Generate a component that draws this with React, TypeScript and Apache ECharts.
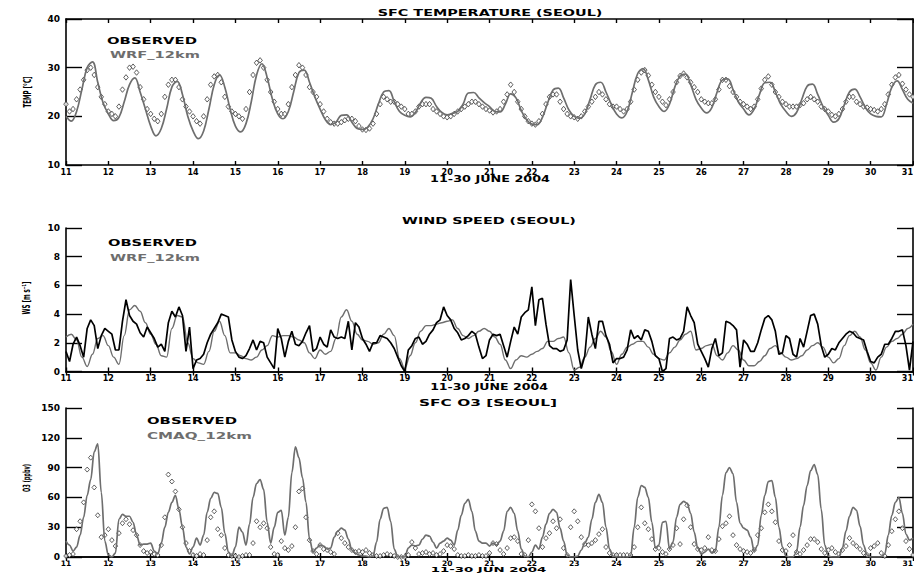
import React, { useEffect, useRef } from "react";
import * as echarts from "echarts";

// ---- data (day-of-month axis, 11..31 June 2004) ----
const DAY_START = 11;
const DAY_END = 31;

// Observed surface temperature, every 2 h (12 per day)
const TEMP_OBS = [
  22.5, 21, 21.5, 23.5, 25.5, 27.5, 29.5, 30, 28.5, 26, 24, 22.5,
  21, 20.5, 20, 22, 25.5, 28, 30, 30.2, 29, 26, 23.5, 21.5,
  20.5, 19.5, 19, 20.5, 24, 26.5, 27.5, 27.5, 26, 23.5, 22, 21,
  20, 19, 18.5, 20, 23.5, 26.5, 28.2, 28.5, 27, 24, 22, 21,
  20.5, 20, 19.5, 21.5, 25, 28.5, 31, 31.5, 30, 27.5, 25, 23,
  21.5, 20.5, 20.5, 22.5, 26, 28.5, 30.5, 30, 28.5, 26, 25, 24,
  22.5, 21, 19.5, 18.8, 18.5, 18.5, 18.8, 19.2, 19.5, 19.5, 19, 18,
  17.3, 17.2, 17.5, 18.5, 20.5, 22.5, 24, 23.5, 23, 23, 22.5, 22,
  21.5, 20.5, 20.5, 21, 22, 22.5, 22.5, 22.5, 21.5, 21, 20.5, 20,
  19.8, 20, 20.5, 21, 21.5, 22, 22.5, 23, 23, 22.5, 22, 21.5,
  21.2, 20.8, 21, 21.5, 23, 24.5, 26.5, 25, 23, 21.5, 20, 19,
  18.5, 18.3, 19, 20.5, 22.5, 24, 24.5, 24.5, 23, 21.5, 20.5, 20,
  19.8, 19.5, 20, 21, 22, 23, 24, 25, 24.5, 23.5, 22.5, 22,
  22, 21.5, 21, 21.5, 23, 25.5, 27.5, 29, 29.5, 28.4, 26.5, 25,
  24, 23, 22.3, 23.5, 25, 27, 28.3, 28.8, 28, 27, 26, 25,
  23.5, 23, 22.7, 22.7, 23.5, 25.5, 27.5, 27.5, 26.2, 25, 24, 23,
  22.5, 22, 21.5, 22, 23.5, 25.7, 27.5, 28.2, 26.5, 25, 24, 23,
  22.5, 22, 22, 22, 22.3, 22.7, 23.5, 24, 23.5, 23, 22, 21.5,
  21, 20.3, 20, 20.5, 21.5, 23, 24, 24, 23, 22.5, 22, 21.8,
  21.5, 21.3, 21, 21.5, 22.5, 24.5, 26.5, 28, 28.5, 26.7, 25.5, 24.5,
  24,
];

// WRF 12 km temperature, every 3 h (8 per day)
const TEMP_WRF = [
  20, 19, 21, 25.5, 30, 31.2, 27, 22.8,
  20.5, 19.1, 19.8, 23, 26.5, 27.9, 25, 21.5,
  18, 16, 17.5, 21.5, 26, 27.2, 24.5, 20,
  17, 15.4, 17, 21.5, 26.5, 28.5, 26, 21.5,
  18, 16.8, 18.5, 23, 28.5, 30.8, 28, 23.5,
  20.5, 19.5, 21, 25, 29, 29.5, 27, 24,
  21.5, 19.3, 18.3, 18.8, 20.2, 20.3, 18.8, 17.5,
  17.3, 17.8, 19.5, 22.5, 25, 25.3, 23, 21,
  20.2, 19.9, 20.8, 22.8, 23.9, 23.7, 22, 20.8,
  20.3, 20.6, 21, 22.5, 24.8, 24.9, 23.8, 22.8,
  22, 21, 20.9, 22.5, 24.6, 23.8, 21.2, 19.3,
  18.4, 18.3, 19.8, 22.8, 25.4, 25.8, 23.8, 21.3,
  20, 19.6, 20.5, 23.5, 26.5, 27, 25, 22.5,
  20.5, 19.7, 21, 25, 28.8, 29.8, 27.5, 24,
  22, 21, 22.5, 26, 28.3, 28.7, 26.5, 23.5,
  21.7, 20.7, 21.8, 25, 27.5, 27.7, 25.5, 23,
  21.5, 20.3, 21.5, 24.5, 26.9, 27, 25, 22.5,
  21, 20, 20.8, 23.5, 26.2, 26.6, 24.5, 22,
  20.2, 18.8, 19.5, 22.3, 25, 25.6, 24, 21.8,
  20.5, 20, 19.9, 22.5, 26, 27.3, 25.5, 23.5,
  22.7,
];

// Observed wind speed, every 2 h
const WS_OBS = [
  1.4, 0.7, 1.9, 2.4, 1.8, 1.0, 3.0, 3.6, 3.2, 1.6, 2.5, 3.0,
  2.8, 2.6, 1.5, 1.5, 3.5, 5.0, 3.9, 3.5, 3.3, 2.7, 2.4, 3.1,
  2.7, 2.3, 1.7, 1.9, 1.4, 3.4, 4.2, 3.8, 4.5, 3.9, 1.4, 3.1,
  0.2, 0.8, 0.9, 1.2, 2.0, 2.6, 3.0, 3.4, 4.0, 3.9, 3.8, 2.2,
  1.4, 1.0, 0.9, 1.1, 1.6, 2.2, 1.5, 2.1, 2.0, 1.0, 0.6, 0.2,
  3.0, 2.3, 1.0, 2.1, 2.8, 1.9, 1.8, 2.1, 2.7, 3.2, 1.4, 1.6,
  2.4, 1.9, 1.7, 2.9, 2.4, 2.3, 2.4, 2.3, 3.5, 1.5, 3.4, 3.1,
  2.3, 1.9, 1.4, 2.0, 2.0, 2.5, 2.4, 2.3, 2.0, 1.6, 1.0, 0.4,
  0.0, 1.5, 1.8, 2.3, 2.4, 1.9, 2.1, 2.6, 2.9, 3.4, 3.6, 4.5,
  3.9, 3.6, 3.0, 2.7, 2.2, 2.3, 2.5, 2.8, 2.6, 1.7, 0.9, 1.1,
  2.2, 2.6, 2.5, 2.6, 1.8, 1.0, 2.1, 3.1, 2.6, 3.8, 4.1, 4.3,
  5.9, 3.2, 5.0, 5.1, 3.3, 1.8, 1.6, 1.6, 1.4, 1.5, 2.2, 6.4,
  3.9, 1.5, 0.2, 1.1, 3.8, 2.6, 1.6, 3.5, 3.5, 2.5, 1.9, 0.6,
  0.9, 0.9, 1.0, 1.5, 2.9, 2.3, 2.5, 2.2, 2.9, 2.8, 2.1, 1.1,
  0.9, 0.0, 0.2, 2.3, 2.4, 2.2, 2.3, 2.8, 4.5, 3.9, 3.4, 1.9,
  1.4, 0.9, 0.3, 1.6, 2.3, 1.1, 1.3, 3.5, 3.4, 3.2, 2.9, 0.3,
  2.2, 1.9, 1.4, 1.4, 2.0, 2.9, 3.7, 3.9, 3.6, 2.8, 1.2, 1.3,
  2.5, 2.3, 1.2, 1.0, 2.3, 1.7, 2.8, 3.9, 4.0, 3.3, 1.8, 1.0,
  1.2, 1.6, 1.5, 2.0, 2.3, 2.6, 2.8, 2.7, 2.4, 2.3, 2.2, 1.4,
  0.7, 0.6, 1.0, 1.2, 1.9, 1.9, 2.3, 2.8, 2.8, 2.9, 1.8, 0.1,
  2.1,
];

// WRF 12 km wind speed, every 3 h
const WS_WRF = [
  2.4, 2.6, 2.2, 1.0, 0.35, 1.2, 2.3, 2.5,
  1.8, 1.0, 0.5, 2.5, 4.3, 4.6, 4.2, 3.4,
  2.6, 1.9, 1.1, 1.0, 3.0, 3.9, 3.8, 2.0,
  0.9, 0.6, 0.5, 1.4, 2.8, 3.5, 2.5, 1.3,
  1.3, 1.1, 0.9, 0.8, 1.0, 1.5, 1.8, 2.5,
  2.4, 2.5, 2.5, 2.4, 2.2, 2.0, 1.3, 0.9,
  1.5, 1.2, 1.4, 2.3, 3.8, 4.3, 3.5, 2.6,
  2.2, 2.1, 1.9, 2.0, 2.6, 3.0, 2.5, 0.9,
  0.2, 1.1, 2.0, 2.8, 3.2, 3.2, 3.3, 3.4,
  3.5, 3.6, 3.0, 2.5, 2.3, 2.5, 2.8, 3.0,
  2.8, 2.4, 1.9, 0.8, 0.2, 0.8, 1.1, 1.0,
  1.2, 1.4, 1.6, 2.1, 2.1, 2.3, 2.4, 1.3,
  0.1, 0.3, 1.0, 1.7, 2.3, 2.8, 2.4, 1.4,
  0.5, 1.2, 1.7, 1.9, 2.1, 2.1, 1.7, 1.2,
  0.9, 0.8, 1.3, 1.7, 2.2, 2.6, 2.8, 1.5,
  1.6, 1.8, 1.9, 1.1, 0.8, 1.3, 1.8, 1.5,
  0.8, 0.4, 0.4, 0.7, 1.1, 1.6, 1.8, 1.3,
  1.0, 0.8, 0.9, 1.1, 1.5, 1.8, 2.0, 1.7,
  1.0, 0.6, 0.9, 1.8, 2.5, 2.8, 2.4, 1.5,
  0.6, 0.1, 1.0, 1.7, 2.1, 2.3, 2.6, 3.0,
  3.3,
];

// Observed surface O3, every 2 h
const O3_OBS = [
  1, 2, 3, 28, 36, 55, 88, 100, 70, 42, 20, 22,
  28, 17, 11, 24, 34, 38, 33, 27, 22, 12, 6, 4,
  5, 3, 2, 12, 40, 83, 76, 66, 48, 30, 14, 6,
  2, 1, 3, 2, 17, 40, 46, 28, 22, 9, 2, 1,
  1, 0, 1, 2, 2, 14, 36, 30, 34, 29, 10, 3,
  2, 16, 9, 7, 11, 30, 66, 69, 40, 17, 6, 3,
  12, 8, 7, 5, 3, 24, 19, 14, 10, 7, 5, 6,
  5, 7, 4, 2, 1, 1, 2, 3, 2, 1, 0, 0,
  0, 2, 15, 9, 3, 4, 5, 3, 4, 2, 3, 6,
  12, 11, 8, 2, 1, 1, 2, 1, 1, 2, 1, 1,
  4, 14, 13, 7, 3, 9, 19, 20, 16, 3, 2, 17,
  53, 46, 29, 10, 19, 24, 36, 29, 38, 9, 2, 30,
  46, 36, 20, 13, 12, 14, 17, 23, 28, 10, 4, 2,
  2, 2, 2, 2, 2, 10, 30, 50, 34, 28, 18, 8,
  9, 5, 3, 8, 12, 29, 13, 38, 52, 30, 13, 8,
  7, 9, 20, 7, 6, 18, 31, 34, 41, 22, 12, 8,
  6, 5, 4, 7, 22, 29, 45, 53, 46, 35, 16, 7,
  6, 12, 22, 5, 3, 7, 12, 18, 18, 15, 8, 4,
  7, 9, 5, 3, 7, 11, 19, 14, 11, 8, 4, 2,
  9, 11, 14, 4, 1, 12, 26, 38, 46, 29, 16, 8,
  2,
];

// CMAQ 12 km O3, every 2 h
const O3_CMAQ = [
  16, 12, 6, 10, 22, 40, 62, 78, 106, 114, 65, 16,
  2, 0, 4, 38, 43, 41, 41, 35, 22, 12, 13, 13,
  14, 6, 3, 14, 30, 45, 55, 62, 48, 30, 10, 3,
  10, 19, 12, 22, 45, 59, 65, 64, 50, 24, 5, 1,
  10, 30, 25, 12, 33, 60, 74, 78, 68, 35, 14, 30,
  45, 47, 22, 40, 85, 111, 100, 80, 55, 18, 5, 9,
  12, 11, 8, 9, 20, 26, 29, 27, 18, 7, 4, 2,
  1, 1, 0, 1, 15, 38, 49, 50, 36, 8, 0, 0,
  0, 9, 12, 11, 12, 18, 22, 21, 15, 9, 14, 16,
  19, 17, 12, 27, 42, 54, 58, 46, 26, 16, 14, 14,
  11, 14, 12, 16, 26, 46, 50, 44, 26, 8, 1, 0,
  5, 12, 8, 20, 33, 44, 48, 45, 29, 16, 2, 0,
  0, 1, 7, 14, 20, 38, 55, 63, 55, 30, 8, 1,
  0, 0, 0, 0, 1, 30, 60, 72, 70, 60, 35, 9,
  12, 35, 36, 8, 15, 40, 53, 56, 54, 44, 25, 9,
  3, 5, 8, 4, 6, 30, 62, 85, 90, 84, 55, 34,
  29, 27, 20, 6, 12, 42, 62, 76, 77, 60, 30, 10,
  1, 0, 0, 5, 30, 52, 72, 87, 93, 83, 48, 12,
  1, 0, 0, 0, 9, 26, 41, 50, 47, 31, 12, 2,
  0, 0, 0, 0, 3, 22, 42, 55, 60, 44, 23, 17,
  19,
];

const Y_TEMP = { min: 10, max: 40, interval: 10 };
const Y_WS = { min: 0, max: 10, interval: 2 };
const Y_O3 = { min: 0, max: 150, interval: 30 };

// ---- layout / style ----
const W = 914;
const H = 574;
const FONT = '"DejaVu Sans", Verdana, sans-serif';
const GRAY = "#6e6e6e";
const PANELS = [
  { top: 19, bottom: 165, labelSize: 8, labelMargin: 3 },
  { top: 228, bottom: 371.5, labelSize: 8, labelMargin: 3 },
  { top: 408, bottom: 557, labelSize: 7.5, labelMargin: 2 },
];
const LEFT = 66;
const RIGHT_EDGE = 913;

const toXY = (arr: number[], perDay: number) =>
  arr.map((v, i) => [DAY_START + i / perDay, v]);

let measureCtx: CanvasRenderingContext2D | null = null;
function textWidth(text: string, size: number) {
  if (!measureCtx) measureCtx = document.createElement("canvas").getContext("2d");
  if (!measureCtx) return text.length * size * 0.7;
  measureCtx.font = `bold ${size}px ${FONT}`;
  return measureCtx.measureText(text).width;
}

function label(
  text: string,
  x: number,
  y: number,
  targetW: number,
  size: number,
  color: string,
  align: "left" | "center" = "center",
  rotation = 0
) {
  const sx = targetW / textWidth(text, size);
  return {
    type: "text",
    x,
    y,
    rotation,
    scaleX: sx,
    silent: true,
    style: {
      text,
      fontSize: size,
      fontWeight: "bold",
      fontFamily: FONT,
      fill: color,
      align,
      verticalAlign: "middle",
    },
  };
}

export default function App() {
  const ref = useRef<HTMLDivElement>(null);

  useEffect(() => {
    if (!ref.current) return;
    const chart = echarts.init(ref.current, undefined, { renderer: "svg" });

    const axisLine = { show: true, lineStyle: { color: "#000", width: 1.6 } };
    const grids = PANELS.map((p) => ({
      left: LEFT,
      width: RIGHT_EDGE - LEFT,
      top: p.top,
      height: p.bottom - p.top,
      containLabel: false,
      outerBoundsMode: "none",
    }));

    const xAxes: any[] = [];
    const yAxes: any[] = [];
    const yRanges = [Y_TEMP, Y_WS, Y_O3];
    PANELS.forEach((p, i) => {
      xAxes.push({
        type: "value",
        gridIndex: i,
        position: "bottom",
        min: DAY_START,
        max: DAY_END,
        interval: 1,
        axisLine,
        axisTick: { inside: true, length: 4, lineStyle: { color: "#000", width: 1.4 } },
        axisLabel: {
          fontSize: p.labelSize,
          fontWeight: "bold",
          fontFamily: FONT,
          color: "#000",
          margin: p.labelMargin,
          alignMaxLabel: "right",
        },
        splitLine: { show: false },
      });
      xAxes.push({
        type: "value",
        gridIndex: i,
        position: "top",
        min: DAY_START,
        max: DAY_END,
        interval: 1,
        axisLine,
        axisTick: { inside: true, length: 4, lineStyle: { color: "#000", width: 1.4 } },
        axisLabel: { show: false },
        splitLine: { show: false },
      });
      const r = yRanges[i];
      yAxes.push({
        type: "value",
        gridIndex: i,
        position: "left",
        min: r.min,
        max: r.max,
        interval: r.interval,
        axisLine,
        axisTick: { inside: true, length: 16, lineStyle: { color: "#000", width: 1.4 } },
        axisLabel: {
          fontSize: 9,
          fontWeight: "bold",
          fontFamily: FONT,
          color: "#000",
          margin: 6,
        },
        splitLine: { show: false },
      });
      yAxes.push({
        type: "value",
        gridIndex: i,
        position: "right",
        min: r.min,
        max: r.max,
        interval: r.interval,
        axisLine,
        axisTick: { inside: true, length: 16, lineStyle: { color: "#000", width: 1.4 } },
        axisLabel: { show: false },
        splitLine: { show: false },
      });
    });

    const diamond = (size: number[]) => ({
      symbol: "diamond",
      symbolSize: size,
      itemStyle: { color: "#fff", borderColor: "#222", borderWidth: 0.9 },
    });

    const series: any[] = [
      {
        name: "OBSERVED",
        type: "scatter",
        xAxisIndex: 0,
        yAxisIndex: 0,
        data: toXY(TEMP_OBS, 12),
        ...diamond([4.5, 5.5]),
        z: 2,
      },
      {
        name: "WRF_12km",
        type: "line",
        xAxisIndex: 0,
        yAxisIndex: 0,
        data: toXY(TEMP_WRF, 8),
        smooth: 0.4,
        showSymbol: false,
        lineStyle: { color: GRAY, width: 1.7 },
        clip: true,
        z: 3,
      },
      {
        name: "OBSERVED",
        type: "line",
        xAxisIndex: 2,
        yAxisIndex: 2,
        data: toXY(WS_OBS, 12),
        showSymbol: false,
        lineStyle: { color: "#000", width: 1.7 },
        clip: true,
        z: 3,
      },
      {
        name: "WRF_12km",
        type: "line",
        xAxisIndex: 2,
        yAxisIndex: 2,
        data: toXY(WS_WRF, 8),
        smooth: 0.4,
        smoothMonotone: "x",
        showSymbol: false,
        lineStyle: { color: GRAY, width: 1.4 },
        clip: true,
        z: 2,
      },
      {
        name: "OBSERVED",
        type: "scatter",
        xAxisIndex: 4,
        yAxisIndex: 4,
        data: toXY(O3_OBS, 12),
        ...diamond([4.5, 5]),
        z: 2,
      },
      {
        name: "CMAQ_12km",
        type: "line",
        xAxisIndex: 4,
        yAxisIndex: 4,
        data: toXY(O3_CMAQ, 12),
        smooth: 0.35,
        smoothMonotone: "x",
        showSymbol: false,
        lineStyle: { color: GRAY, width: 1.7 },
        clip: true,
        z: 3,
      },
    ];

    const graphic = [
      // titles
      label("SFC TEMPERATURE (SEOUL)", 490, 12.5, 225, 9, "#000"),
      label("WIND SPEED (SEOUL)", 489, 221, 174, 9, "#000"),
      label("SFC O3 [SEOUL]", 488, 402.5, 138, 9, "#000"),
      // x axis names
      label("11-30 JUNE 2004", 490, 179, 120, 8, "#000"),
      label("11-30 JUNE 2004", 489, 387, 118, 8, "#000"),
      label("11-30 JUN 2004", 488.5, 569.5, 116, 7, "#000"),
      // legends
      label("OBSERVED", 107, 41, 90, 9.5, "#000", "left"),
      label("WRF_12km", 110, 54.5, 90, 9.5, GRAY, "left"),
      label("OBSERVED", 108, 243, 89, 9.5, "#000", "left"),
      label("WRF_12km", 110, 258, 90, 9.5, GRAY, "left"),
      label("OBSERVED", 147, 421, 90, 9.5, "#000", "left"),
      label("CMAQ_12km", 147, 436, 105, 9.5, GRAY, "left"),
      // y axis names
      label("TEMP [°C]", 27, 92, 31, 10, "#000", "center", Math.PI / 2),
      label("WS [m s⁻¹]", 27, 298, 33, 10, "#000", "center", Math.PI / 2),
      label("O3 (ppbv)", 27, 478, 28, 10, "#000", "center", Math.PI / 2),
    ];

    chart.setOption({
      animation: false,
      backgroundColor: "#fff",
      grid: grids,
      xAxis: xAxes,
      yAxis: yAxes,
      series,
      graphic,
    });

    return () => chart.dispose();
  }, []);

  return (
    <div
      ref={ref}
      style={{ position: "fixed", left: 0, top: 0, width: W, height: H, background: "#fff" }}
    />
  );
}
